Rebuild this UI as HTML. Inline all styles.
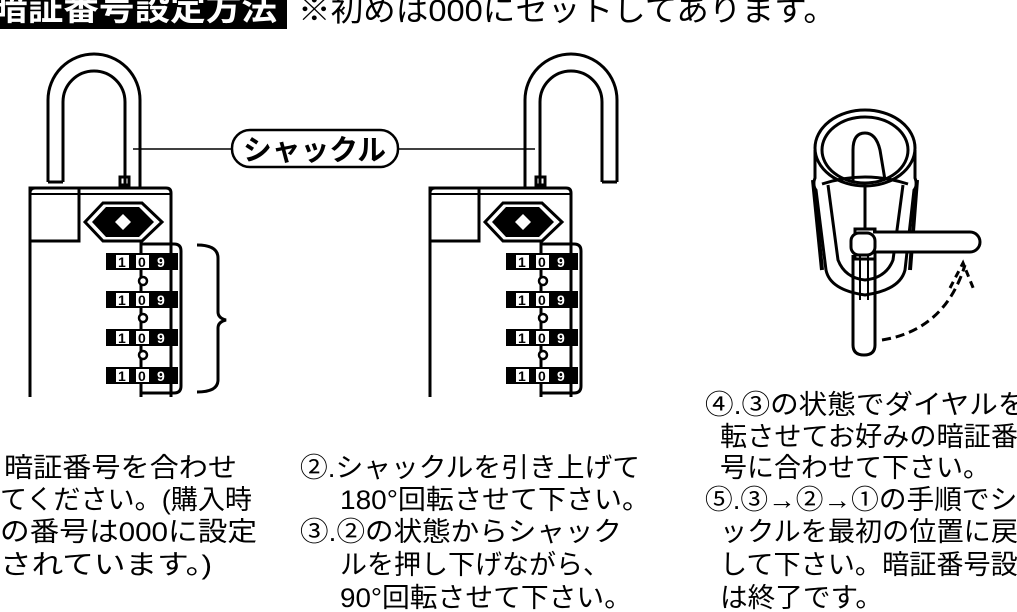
<!DOCTYPE html>
<html><head><meta charset="utf-8"><style>
body{margin:0;background:#fff;width:1017px;height:612px;overflow:hidden}
svg{display:block}
text{font-family:"Liberation Sans","Noto Sans CJK JP",sans-serif;fill:#000}
</style></head><body>
<svg width="1017" height="612" viewBox="0 0 1017 612" xmlns="http://www.w3.org/2000/svg">
<rect x="0" y="0" width="287" height="29" fill="#000"/>
<text x="-8" y="20" font-size="34" font-weight="bold" textLength="285" lengthAdjust="spacingAndGlyphs" style="fill:#fff">暗証番号設定方法</text>
<text x="298" y="21" font-size="31" textLength="538" lengthAdjust="spacingAndGlyphs">※初めは000にセットしてあります。</text>

<!-- label -->
<line x1="133" y1="149" x2="232" y2="149" stroke="#000" stroke-width="1.5"/>
<line x1="398" y1="149" x2="535" y2="149" stroke="#000" stroke-width="1.5"/>
<rect x="232" y="130" width="166" height="37" rx="18" fill="#fff" stroke="#000" stroke-width="2.5"/>
<text x="243" y="160" font-size="29" font-weight="bold" textLength="143" lengthAdjust="spacingAndGlyphs">シャックル</text>

<!-- lock 1 -->
<g fill="none" stroke="#000" stroke-width="3">
<path d="M48 182 V100 A46 46 0 0 1 140 100 V187"/>
<path d="M63 182 V102 A31 31 0 0 1 125 102 V187"/>
<line x1="48" y1="182" x2="63" y2="182"/>
<rect x="120" y="177" width="9" height="8"/>
<path d="M30 397 V193 Q30 188 35 188 H166 Q171 188 171 193 V397"/>
<line x1="30" y1="194" x2="171" y2="194" stroke-width="2"/>
<rect x="30" y="188" width="49" height="53"/>
<path d="M141 397 V244 H174 Q181 244 181 251 V386 Q181 393 174 393 H141"/>
<path d="M197 245 Q218 245 218 258 V312 Q218 318 226 320 Q218 322 218 328 V380 Q218 392 197 392"/>
</g>
<path d="M85 222 L103 203 H142 L162 222 L142 241 H103 Z" fill="#fff" stroke="#000" stroke-width="3"/>
<path d="M92 222 L106 207 H139 L154 222 L139 237 H106 Z" fill="#000"/>
<path d="M123 214 L131 222 L123 230 L115 222 Z" fill="#fff"/>
<g font-size="14" font-weight="bold">
<rect x="106" y="253" width="72" height="17" fill="#000"/><rect x="116" y="255" width="13" height="13" fill="#fff"/><rect x="136" y="255" width="13" height="13" fill="#fff"/>
<text x="118" y="267">1</text><text x="138" y="267">0</text><text x="157" y="267" style="fill:#fff">9</text>
<rect x="106" y="291" width="72" height="17" fill="#000"/><rect x="116" y="293" width="13" height="13" fill="#fff"/><rect x="136" y="293" width="13" height="13" fill="#fff"/>
<text x="118" y="305">1</text><text x="138" y="305">0</text><text x="157" y="305" style="fill:#fff">9</text>
<rect x="106" y="329" width="72" height="17" fill="#000"/><rect x="116" y="331" width="13" height="13" fill="#fff"/><rect x="136" y="331" width="13" height="13" fill="#fff"/>
<text x="118" y="343">1</text><text x="138" y="343">0</text><text x="157" y="343" style="fill:#fff">9</text>
<rect x="106" y="367" width="72" height="17" fill="#000"/><rect x="116" y="369" width="13" height="13" fill="#fff"/><rect x="136" y="369" width="13" height="13" fill="#fff"/>
<text x="118" y="381">1</text><text x="138" y="381">0</text><text x="157" y="381" style="fill:#fff">9</text>
</g>
<g fill="#fff" stroke="#000" stroke-width="2.5"><circle cx="143" cy="281" r="4"/><circle cx="143" cy="318" r="4"/><circle cx="143" cy="355" r="4"/></g>

<!-- lock 2 -->
<g transform="translate(400,0)">
<g fill="none" stroke="#000" stroke-width="3">
<path d="M125 187 V100 A46 46 0 0 1 217 100 V182"/>
<path d="M140 187 V102 A31 31 0 0 1 202 102 V182"/>
<line x1="202" y1="182" x2="217" y2="182"/>
<rect x="136" y="177" width="9" height="8"/>
<path d="M30 397 V193 Q30 188 35 188 H166 Q171 188 171 193 V397"/>
<line x1="30" y1="194" x2="171" y2="194" stroke-width="2"/>
<rect x="30" y="188" width="49" height="53"/>
<path d="M141 397 V244 H174 Q181 244 181 251 V386 Q181 393 174 393 H141"/>
</g>
<path d="M85 222 L103 203 H142 L162 222 L142 241 H103 Z" fill="#fff" stroke="#000" stroke-width="3"/>
<path d="M92 222 L106 207 H139 L154 222 L139 237 H106 Z" fill="#000"/>
<path d="M123 214 L131 222 L123 230 L115 222 Z" fill="#fff"/>
<g font-size="14" font-weight="bold">
<rect x="106" y="253" width="72" height="17" fill="#000"/><rect x="116" y="255" width="13" height="13" fill="#fff"/><rect x="136" y="255" width="13" height="13" fill="#fff"/>
<text x="118" y="267">1</text><text x="138" y="267">0</text><text x="157" y="267" style="fill:#fff">9</text>
<rect x="106" y="291" width="72" height="17" fill="#000"/><rect x="116" y="293" width="13" height="13" fill="#fff"/><rect x="136" y="293" width="13" height="13" fill="#fff"/>
<text x="118" y="305">1</text><text x="138" y="305">0</text><text x="157" y="305" style="fill:#fff">9</text>
<rect x="106" y="329" width="72" height="17" fill="#000"/><rect x="116" y="331" width="13" height="13" fill="#fff"/><rect x="136" y="331" width="13" height="13" fill="#fff"/>
<text x="118" y="343">1</text><text x="138" y="343">0</text><text x="157" y="343" style="fill:#fff">9</text>
<rect x="106" y="367" width="72" height="17" fill="#000"/><rect x="116" y="369" width="13" height="13" fill="#fff"/><rect x="136" y="369" width="13" height="13" fill="#fff"/>
<text x="118" y="381">1</text><text x="138" y="381">0</text><text x="157" y="381" style="fill:#fff">9</text>
</g>
<g fill="#fff" stroke="#000" stroke-width="2.5"><circle cx="143" cy="281" r="4"/><circle cx="143" cy="318" r="4"/><circle cx="143" cy="355" r="4"/></g>
</g>

<!-- top view -->
<g fill="none" stroke="#000" stroke-width="3">
<ellipse cx="865" cy="148" rx="50" ry="38"/>
<ellipse cx="865" cy="150" rx="43" ry="33"/>
<path d="M815 150 V178 Q812 185 816 190 L826 270 Q830 290 865 295 Q900 290 905 270 L914 190 Q918 185 915 178 V150"/>
<path d="M828 185 L838 260 Q845 278 865 280 Q886 278 893 260 L903 185"/>
<path d="M813 180 L822 270" stroke-width="4"/>
<path d="M917 180 L910 270" stroke-width="4"/>
<path d="M853 183 V150 Q853 133 865 133 Q876 133 880 150 L885 180"/>
<path d="M822 184 Q865 170 908 184"/>
<line x1="865" y1="185" x2="865" y2="230"/>
<rect x="855" y="229" width="20" height="30" fill="#fff"/>
<path d="M873 232 H970 A10 10 0 0 1 970 252 H873" fill="#fff"/>
<rect x="851" y="233" width="24" height="22" rx="8" fill="#fff"/>
<path d="M853 255 V345 Q853 355 864 355 Q875 355 875 345 V255"/>
<line x1="860" y1="255" x2="860" y2="300" stroke-width="2"/>
<line x1="868" y1="255" x2="868" y2="300" stroke-width="2"/>
<path d="M882 340 Q945 330 965 265" stroke-dasharray="9 5"/>
<path d="M950 288 L963 263 L974 290" stroke-dasharray="7 5"/>
</g>

<!-- texts -->
<g font-size="27">
<text x="4" y="477" textLength="233" lengthAdjust="spacingAndGlyphs">暗証番号を合わせ</text>
<text x="0" y="509" textLength="252" lengthAdjust="spacingAndGlyphs">てください。(購入時</text>
<text x="0" y="541" textLength="257" lengthAdjust="spacingAndGlyphs">の番号は000に設定</text>
<text x="0" y="574" textLength="212" lengthAdjust="spacingAndGlyphs">されています。)</text>
<text x="300" y="477" textLength="340" lengthAdjust="spacingAndGlyphs">②.シャックルを引き上げて</text>
<text x="340" y="509" textLength="310" lengthAdjust="spacingAndGlyphs">180°回転させて下さい。</text>
<text x="300" y="541" textLength="322" lengthAdjust="spacingAndGlyphs">③.②の状態からシャック</text>
<text x="340" y="574" textLength="270" lengthAdjust="spacingAndGlyphs">ルを押し下げながら、</text>
<text x="340" y="607" textLength="292" lengthAdjust="spacingAndGlyphs">90°回転させて下さい。</text>
<text x="705" y="414" textLength="350" lengthAdjust="spacingAndGlyphs">④.③の状態でダイヤルを回</text>
<text x="720" y="446" textLength="298" lengthAdjust="spacingAndGlyphs">転させてお好みの暗証番</text>
<text x="720" y="477" textLength="270" lengthAdjust="spacingAndGlyphs">号に合わせて下さい。</text>
<text x="705" y="509" textLength="340" lengthAdjust="spacingAndGlyphs">⑤.③→②→①の手順でシャ</text>
<text x="720" y="541" textLength="298" lengthAdjust="spacingAndGlyphs">ックルを最初の位置に戻</text>
<text x="720" y="574" textLength="325" lengthAdjust="spacingAndGlyphs">して下さい。暗証番号設定</text>
<text x="720" y="607" textLength="163" lengthAdjust="spacingAndGlyphs">は終了です。</text>
</g>
</svg>
</body></html>
